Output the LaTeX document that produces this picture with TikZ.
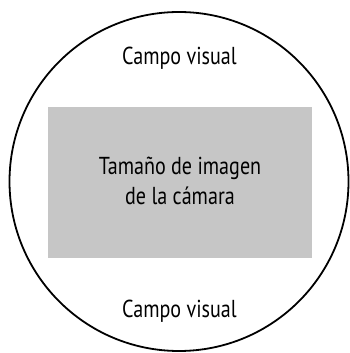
\documentclass[tikz,border=0pt]{standalone}
\usepackage{fontspec}
\setmainfont[FakeStretch=0.82]{PT Sans}
\definecolor{boxgray}{HTML}{C6C6C6}
\begin{document}
\begin{tikzpicture}[x=1pt,y=1pt,
  lbl/.style={font=\fontsize{24.5}{30}\selectfont, inner sep=0pt, anchor=base, align=center}]
\useasboundingbox (0,0) rectangle (349,353);
\draw[line width=1.8pt] (179,171.5) circle[radius=169.5];
\fill[boxgray] (47.5,95) rectangle (312,246.3);
\node[lbl] (top) at (179.5,288) {Campo visual};
\node[lbl] (bot) at (179.5,35) {Campo visual};
\node[lbl] (mid1) at (180,178) {Tamaño de imagen};
\node[lbl] (mid2) at (180,148) {de la cámara};
\end{tikzpicture}
\end{document}
